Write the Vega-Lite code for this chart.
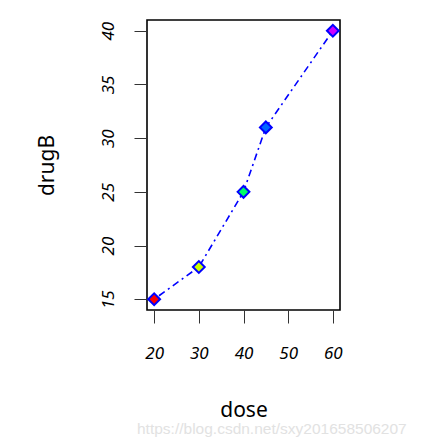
{
  "$schema": "https://vega.github.io/schema/vega-lite/v6.json",
  "width": 193,
  "height": 290,
  "autosize": "none",
  "padding": {"left": 147, "top": 20, "right": 82, "bottom": 133},
  "background": "white",
  "config": {
    "view": {"stroke": "black", "strokeWidth": 1.6},
    "axis": {
      "domain": false,
      "grid": false,
      "tickColor": "#333333",
      "tickSize": 13,
      "tickWidth": 1,
      "labelFont": "Noto Sans",
      "labelFontStyle": "italic",
      "labelFontSize": 17,
      "labelColor": "black",
      "titleFont": "Noto Sans",
      "titleFontSize": 21,
      "titleFontWeight": "normal",
      "titleColor": "black"
    }
  },
  "title": {
    "text": "https://blog.csdn.net/sxy201658506207",
    "orient": "bottom",
    "anchor": "start",
    "frame": "group",
    "dx": -10,
    "offset": 2,
    "font": "Liberation Sans",
    "fontSize": 15.5,
    "fontWeight": "normal",
    "color": "#e2e2e2"
  },
  "data": {
    "values": [
      {"dose": 20, "drugB": 15, "col": "a"},
      {"dose": 30, "drugB": 18, "col": "b"},
      {"dose": 40, "drugB": 25, "col": "c"},
      {"dose": 45, "drugB": 31, "col": "d"},
      {"dose": 60, "drugB": 40, "col": "e"}
    ]
  },
  "encoding": {
    "x": {
      "field": "dose", "type": "quantitative",
      "scale": {"domain": [18.4, 61.6], "nice": false, "zero": false},
      "axis": {
        "values": [20, 30, 40, 50, 60],
        "labelPadding": 22,
        "labelBaseline": "top",
        "title": "dose",
        "titleX": 96.5,
        "titleY": 100,
        "titleAlign": "center",
        "titleBaseline": "middle"
      }
    },
    "y": {
      "field": "drugB", "type": "quantitative",
      "scale": {"domain": [14, 41], "nice": false, "zero": false},
      "axis": {
        "values": [15, 20, 25, 30, 35, 40],
        "labelAngle": -90,
        "labelAlign": "center",
        "labelBaseline": "bottom",
        "labelPadding": 17,
        "title": "drugB",
        "titleAngle": -90,
        "titleX": -100,
        "titleY": 145,
        "titleAlign": "center",
        "titleBaseline": "middle"
      }
    }
  },
  "layer": [
    {
      "mark": {"type": "line", "color": "#0000ff", "strokeWidth": 1.6, "strokeDash": [2, 4, 7, 4]}
    },
    {
      "mark": {"type": "point", "shape": "diamond", "filled": true, "size": 140, "stroke": "#0000ff", "strokeWidth": 2, "opacity": 1},
      "encoding": {
        "fill": {
          "field": "col", "type": "nominal",
          "scale": {"domain": ["a", "b", "c", "d", "e"], "range": ["#ff0000", "#ccff00", "#00ff66", "#0066ff", "#cc00ff"]},
          "legend": null
        }
      }
    }
  ]
}
